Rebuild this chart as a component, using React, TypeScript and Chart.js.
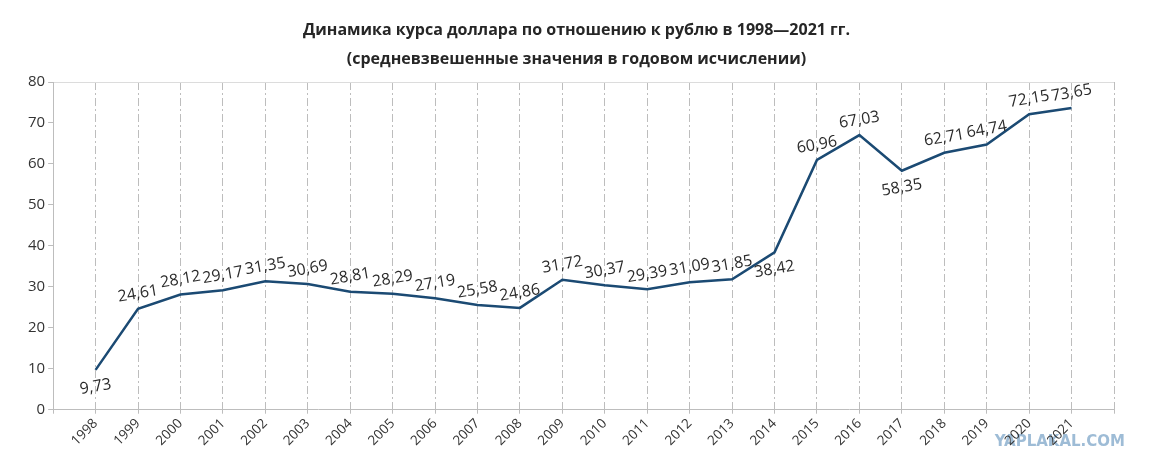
import { useEffect, useRef } from 'react'
import { Chart, registerables } from 'chart.js'

Chart.register(...registerables)

const years = [
  1998, 1999, 2000, 2001, 2002, 2003, 2004, 2005, 2006, 2007, 2008, 2009,
  2010, 2011, 2012, 2013, 2014, 2015, 2016, 2017, 2018, 2019, 2020, 2021,
]
const rates = [
  9.73, 24.61, 28.12, 29.17, 31.35, 30.69, 28.81, 28.29, 27.19, 25.58, 24.86, 31.72,
  30.37, 29.39, 31.09, 31.85, 38.42, 60.96, 67.03, 58.35, 62.71, 64.74, 72.15, 73.65,
]
// years whose value label sits under the line
const labelsBelow = [1998, 2014, 2017]
const titleLines = [
  'Динамика курса доллара по отношению к рублю в 1998—2021 гг.',
  '(средневзвешенные значения в годовом исчислении)',
]

// title centred on the whole canvas, not on the padded layout box
const centredTitle = {
  id: 'centredTitle',
  afterDraw(chart: Chart) {
    const { ctx, width } = chart
    ctx.save()
    ctx.font = 'bold 16px "Open Sans"'
    ctx.fillStyle = '#262626'
    ctx.textAlign = 'center'
    ctx.textBaseline = 'middle'
    titleLines.forEach((line, i) => ctx.fillText(line, width / 2 + 1, 30 + i * 29))
    ctx.restore()
  },
}

const valueLabels = {
  id: 'valueLabels',
  afterDatasetsDraw(chart: Chart) {
    const { ctx } = chart
    const meta = chart.getDatasetMeta(0)
    ctx.save()
    ctx.font = '16px "Open Sans"'
    ctx.fillStyle = '#2b2b2b'
    ctx.textAlign = 'center'
    ctx.textBaseline = 'middle'
    meta.data.forEach((pt, i) => {
      const below = labelsBelow.includes(years[i])
      const text = rates[i].toFixed(2).replace('.', ',')
      ctx.save()
      ctx.translate(pt.x, pt.y + (below ? 17 : -15))
      ctx.rotate(-0.17)
      ctx.fillText(text, 0, 0)
      ctx.restore()
    })
    ctx.restore()
  },
}

const watermark = {
  id: 'watermark',
  beforeDraw(chart: Chart) {
    const { ctx } = chart
    ctx.save()
    ctx.font = 'bold 15px "DejaVu Sans"'
    ctx.fillStyle = 'rgba(125,165,200,0.75)'
    ctx.textAlign = 'right'
    ctx.textBaseline = 'middle'
    ctx.fillText('YAPLAKAL.COM', 1125, 442)
    ctx.restore()
  },
}

const App = () => {
  const canvas = useRef<HTMLCanvasElement>(null)

  useEffect(() => {
    document.body.style.margin = '0'
    if (!canvas.current) return
    const chart = new Chart(canvas.current, {
      type: 'line',
      data: {
        datasets: [
          {
            data: years.map((y, i) => ({ x: y, y: rates[i] })),
            borderColor: '#1b4a73',
            borderWidth: 2.5,
            pointRadius: 0,
            tension: 0,
          },
        ],
      },
      options: {
        animation: false,
        responsive: true,
        maintainAspectRatio: false,
        layout: { padding: { left: 25, right: 37, top: 82, bottom: 21 } },
        plugins: {
          legend: { display: false },
          tooltip: { enabled: false },
          title: { display: false },
        },
        scales: {
          x: {
            type: 'linear',
            min: 1997,
            max: 2022,
            ticks: {
              stepSize: 1,
              autoSkip: false,
              minRotation: 45,
              maxRotation: 45,
              color: '#333',
              font: { family: '"Open Sans"', size: 13.5 },
              padding: 2,
              callback: (v) => (v === 1997 || v === 2022 ? '' : String(v)),
            },
            grid: {
              color: '#bdbdbd',
              lineWidth: 1,
              tickLength: 4,
              tickColor: '#bdbdbd',
            },
            border: { color: '#bdbdbd', dash: [8, 3, 2, 3] },
          },
          y: {
            min: 0,
            max: 80,
            ticks: {
              stepSize: 10,
              color: '#333',
              font: { family: '"Open Sans"', size: 15 },
              padding: 3,
            },
            grid: {
              color: (c) => (c.tick && c.tick.value === 80 ? '#dcdcdc' : 'rgba(0,0,0,0)'),
              tickColor: '#bdbdbd',
              tickLength: 5,
            },
            border: { color: '#bdbdbd' },
          },
        },
      },
      plugins: [watermark, valueLabels, centredTitle],
    })
    return () => {
      chart.destroy()
    }
  }, [])

  return (
    <div style={{ position: 'relative', width: 1151, height: 472 }}>
      <canvas ref={canvas} />
    </div>
  )
}

export default App
